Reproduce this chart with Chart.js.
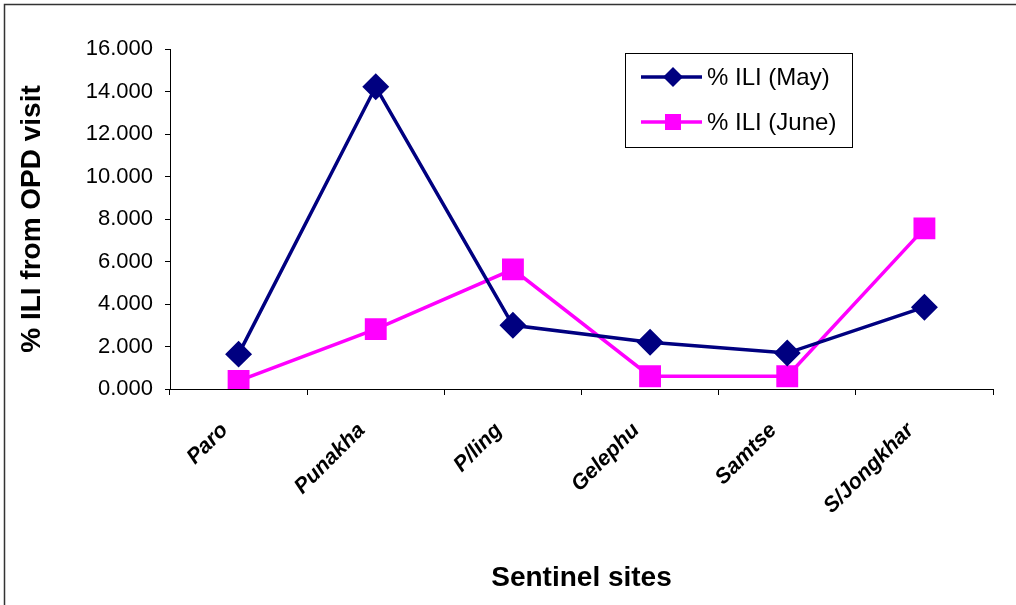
<!DOCTYPE html>
<html>
<head>
<meta charset="utf-8">
<script src="https://cdn.jsdelivr.net/npm/chart.js@4/dist/chart.umd.min.js"></script>
<style>
    html, body { margin: 0; padding: 0; background: #fff; }
    #wrap { width: 1016px; height: 605px; position: relative; }
</style>
</head>
<body>
<div id="wrap"><canvas id="ili"></canvas></div>
<script>
// Sentinel sites and % ILI per month
const sites = ['Paro', 'Punakha', 'P/ling', 'Gelephu', 'Samtse', 'S/Jongkhar'];
const iliMay = [1.64, 14.22, 3.0, 2.2, 1.69, 3.85];
const iliJune = [0.38, 2.82, 5.63, 0.6, 0.6, 7.56];
const yTicks = [0, 2, 4, 6, 8, 10, 12, 14, 16];

const FONT = '"Liberation Sans", Arial, sans-serif';

// frame + boxed legend, drawn on the canvas
const framePlugin = {
    id: 'frame',
    beforeDraw(chart) {
        const ctx = chart.ctx;
        ctx.save();
        ctx.fillStyle = '#fff';
        ctx.fillRect(0, 0, chart.width, chart.height);
        ctx.strokeStyle = '#333';
        ctx.lineWidth = 1.5;
        ctx.strokeRect(4.5, 4.5, chart.width + 20, chart.height + 20);
        ctx.restore();
    },
    afterDraw(chart) {
        const ctx = chart.ctx;
        ctx.save();
        ctx.strokeStyle = '#000';
        ctx.lineWidth = 1;
        ctx.strokeRect(625.5, 53.5, 227, 94);
        chart.data.datasets.forEach((ds, i) => {
            const y = 77 + i * 45;
            ctx.strokeStyle = ds.borderColor;
            ctx.lineWidth = 3.5;
            ctx.beginPath();
            ctx.moveTo(641, y);
            ctx.lineTo(702, y);
            ctx.stroke();
            ctx.fillStyle = ds.backgroundColor;
            ctx.beginPath();
            if (ds.pointStyle === 'rectRot') {
                ctx.moveTo(673, y - 10);
                ctx.lineTo(683, y);
                ctx.lineTo(673, y + 10);
                ctx.lineTo(663, y);
            } else {
                ctx.rect(665, y - 8, 16, 16);
            }
            ctx.fill();
            ctx.fillStyle = '#000';
            ctx.font = '24px ' + FONT;
            ctx.textBaseline = 'middle';
            ctx.fillText(ds.label, 707, y + 1);
        });
        ctx.restore();
    }
};

new Chart(document.getElementById('ili'), {
    type: 'line',
    data: {
        labels: sites,
        datasets: [{
            label: '% ILI (May)',
            data: iliMay,
            borderColor: '#000080',
            backgroundColor: '#000080',
            borderWidth: 3.5,
            pointStyle: 'rectRot',
            pointRadius: 11,
            tension: 0
        }, {
            label: '% ILI (June)',
            data: iliJune,
            borderColor: '#ff00ff',
            backgroundColor: '#ff00ff',
            borderWidth: 3.5,
            pointStyle: 'rect',
            pointRadius: 13,
            tension: 0
        }]
    },
    options: {
        responsive: true,
        maintainAspectRatio: false,
        animation: false,
        layout: { padding: { left: 0, right: 23, top: 49, bottom: 0 } },
        scales: {
            x: {
                offset: true,
                afterFit: (s) => { s.height = 216; },
                grid: { offset: true, drawOnChartArea: false, tickLength: 6, color: '#000' },
                border: { color: '#000', width: 1 },
                ticks: {
                    color: '#000',
                    minRotation: 45,
                    maxRotation: 45,
                    padding: 23,
                    labelOffset: -14,
                    font: { family: FONT, size: 21.5, weight: 'bold', style: 'italic' }
                },
                title: {
                    display: true,
                    text: 'Sentinel sites',
                    color: '#000',
                    padding: { top: 0, bottom: 10 },
                    font: { family: FONT, size: 28, weight: 'bold' }
                }
            },
            y: {
                min: 0,
                max: 16,
                afterFit: (s) => { s.width = 170; },
                afterBuildTicks: (s) => { s.ticks = yTicks.map(v => ({ value: v })); },
                grid: { drawOnChartArea: false, tickLength: 5, color: '#000' },
                border: { color: '#000', width: 1 },
                ticks: {
                    color: '#000',
                    padding: 12,
                    callback: (v) => v.toFixed(3),
                    font: { family: FONT, size: 22 }
                },
                title: {
                    display: true,
                    text: '% ILI from OPD visit',
                    color: '#000',
                    padding: { top: 15, bottom: 0 },
                    font: { family: FONT, size: 28, weight: 'bold' }
                }
            }
        },
        plugins: {
            legend: { display: false },
            tooltip: { enabled: false }
        }
    },
    plugins: [framePlugin]
});
</script>
</body>
</html>
